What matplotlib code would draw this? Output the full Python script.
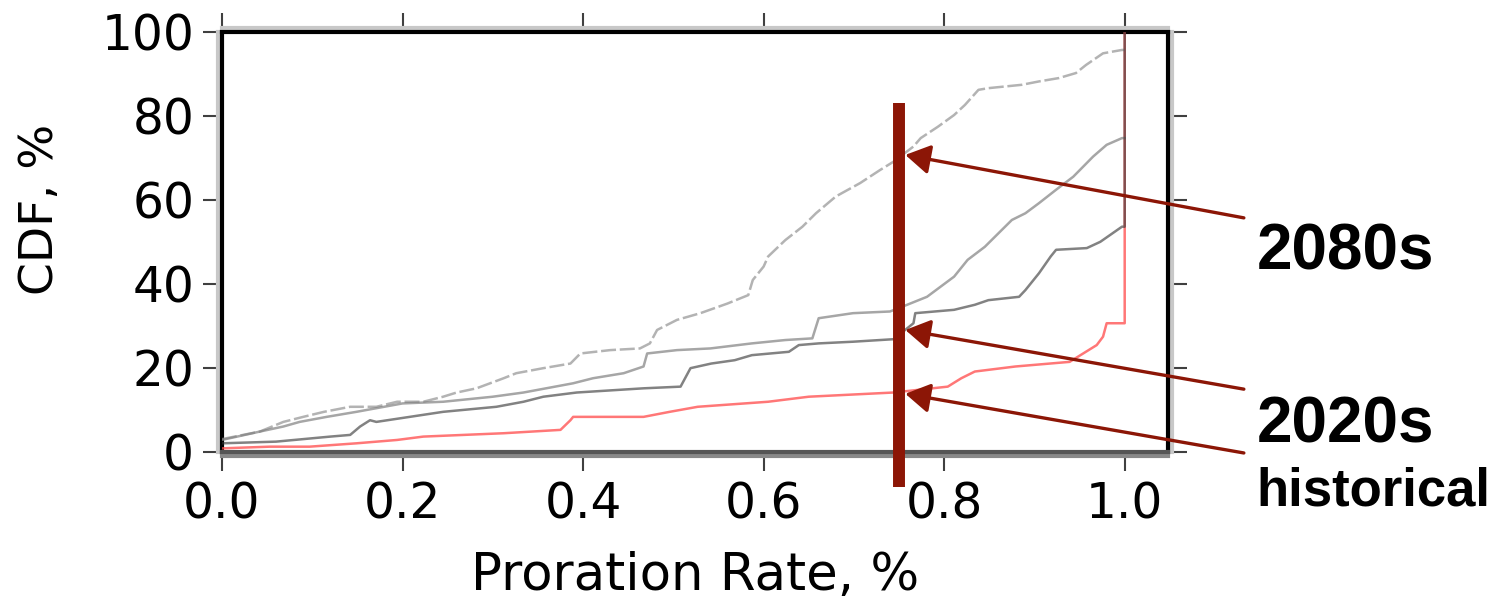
import numpy as np
import matplotlib
matplotlib.use('Agg')
import matplotlib.pyplot as plt
import matplotlib.patheffects as pe

# CDF curves of proration rate
x_2080 = [0.0, 0.042, 0.068, 0.09, 0.113, 0.142, 0.171, 0.194, 0.223, 0.245, 0.26, 0.282,
          0.312, 0.326, 0.356, 0.386, 0.397, 0.43, 0.463, 0.474, 0.482, 0.504, 0.53, 0.56,
          0.583, 0.588, 0.6, 0.605, 0.624, 0.643, 0.658, 0.68, 0.707, 0.729, 0.744, 0.766,
          0.774, 0.793, 0.811, 0.823, 0.838, 0.849, 0.886, 0.905, 0.927, 0.946, 0.957, 0.976,
          0.997, 1.0]
y_2080 = [3.0, 4.8, 7.1, 8.3, 9.5, 10.7, 10.7, 11.9, 11.9, 13.1, 14.1, 15.1,
          17.5, 18.7, 19.9, 21.0, 23.4, 24.2, 24.6, 25.8, 29.0, 31.4, 33.0, 35.3,
          37.3, 40.9, 44.1, 46.5, 50.4, 53.6, 56.8, 60.8, 64.0, 67.1, 69.1, 72.7,
          74.7, 77.4, 80.2, 82.6, 86.2, 86.6, 87.4, 88.2, 89.0, 90.2, 92.1, 94.9,
          95.7, 95.7]

x_2020a = [0.0, 0.042, 0.068, 0.086, 0.116, 0.149, 0.2, 0.245, 0.3, 0.334, 0.389, 0.411,
           0.445, 0.467, 0.471, 0.504, 0.541, 0.587, 0.624, 0.654, 0.661, 0.699, 0.74,
           0.759, 0.781, 0.796, 0.811, 0.826, 0.845, 0.86, 0.875, 0.89, 0.905, 0.924,
           0.943, 0.954, 0.965, 0.98, 0.997, 1.0]
y_2020a = [2.8, 4.8, 6.0, 7.1, 8.3, 9.5, 11.5, 11.9, 13.1, 14.1, 16.3, 17.5,
           18.7, 20.3, 23.4, 24.2, 24.6, 25.8, 26.6, 27.0, 31.8, 33.0, 33.4,
           35.0, 36.9, 39.3, 41.7, 45.7, 48.8, 52.0, 55.2, 56.8, 59.2, 62.4,
           65.5, 67.9, 70.3, 73.1, 74.7, 74.7]

x_2020b = [0.0, 0.06, 0.12, 0.142, 0.153, 0.164, 0.171, 0.208, 0.245, 0.304, 0.334, 0.356,
           0.393, 0.467, 0.508, 0.519, 0.542, 0.568, 0.587, 0.628, 0.639, 0.661, 0.699,
           0.744, 0.766, 0.768, 0.811, 0.834, 0.849, 0.883, 0.89, 0.905, 0.918, 0.924,
           0.958, 0.973, 0.997, 1.0, 1.0]
y_2020b = [2.0, 2.4, 3.6, 4.0, 6.0, 7.5, 7.1, 8.3, 9.5, 10.7, 11.9, 13.1,
           14.1, 15.1, 15.5, 19.9, 21.0, 21.8, 23.0, 23.8, 25.4, 25.8, 26.2,
           26.8, 30.6, 33.0, 33.8, 35.0, 36.1, 36.9, 38.5, 42.5, 46.5, 48.1,
           48.5, 50.0, 53.6, 53.6, 100.0]

x_hist = [0.0, 0.053, 0.097, 0.149, 0.194, 0.223, 0.312, 0.375, 0.386, 0.389, 0.467,
          0.496, 0.527, 0.605, 0.65, 0.744, 0.804, 0.819, 0.834, 0.879, 0.939, 0.954,
          0.969, 0.976, 0.98, 1.0, 1.0]
y_hist = [0.8, 1.2, 1.2, 2.0, 2.8, 3.6, 4.4, 5.2, 7.5, 8.3, 8.3,
          9.5, 10.7, 11.9, 13.1, 14.1, 15.5, 17.5, 19.1, 20.3, 21.4, 23.4,
          25.4, 27.4, 30.6, 30.6, 100.0]

# marker bar and labels
bar_x = 0.75
bar_y = (-8.3, 83.0)
labels = ['2080s', '2020s', 'historical']
label_size = [46, 46, 38]
tip_y = [70.7, 29.0, 13.8]
tail_y = [55.7, 14.9, -0.3]
text_y = [43.3, 2.3, -12.7]

xticks = [0.0, 0.2, 0.4, 0.6, 0.8, 1.0]
yticks = [0, 20, 40, 60, 80, 100]

dark_red = '#8c1606'

fig = plt.figure(figsize=(15.05, 6.03), dpi=100)
ax = fig.add_axes([0.1475, 0.2509, 0.6286, 0.6962])

ax.plot(x_hist, y_hist, color='#ff4a4a', lw=1.8, alpha=0.75, zorder=3)
ax.plot(x_2080, y_2080, color='#8a8a8a', lw=1.8, alpha=0.65, dashes=(6, 1.5), zorder=4)
ax.plot(x_2020a, y_2020a, color='#808080', lw=1.8, alpha=0.7, zorder=4)
ax.plot(x_2020b, y_2020b, color='#353535', lw=1.8, alpha=0.62, zorder=5)

ax.plot([bar_x, bar_x], bar_y, color=dark_red, lw=8.6, solid_capstyle='butt',
        clip_on=False, zorder=6)

for lab, fs, ty, tl, tt in zip(labels, label_size, tip_y, tail_y, text_y):
    ax.annotate('', xy=(0.757, ty), xytext=(1.132, tl), xycoords='data',
                annotation_clip=False,
                arrowprops=dict(arrowstyle='-|>,head_length=0.75,head_width=0.45',
                                mutation_scale=20, color=dark_red, lw=2.4,
                                shrinkA=0, shrinkB=0), zorder=7)
    ax.text(1.146, tt, lab, fontsize=fs, fontweight='bold', family='Liberation Sans',
            ha='left', va='baseline', clip_on=False)

ax.set_xlim(0, 1.048)
ax.set_ylim(0, 100)
ax.set_xticks(xticks)
ax.set_xticklabels(['{:.1f}'.format(v) for v in xticks])
ax.set_yticks(yticks)
ax.tick_params(direction='out', length=14, width=1.5, color='#404040', pad=7,
               labelsize=35, top=True, right=True)
ax.tick_params(axis='y', pad=6)
ax.set_xlabel('Proration Rate, %', fontsize=37, labelpad=16)
ax.set_ylabel('CDF, %', fontsize=34)
ax.yaxis.set_label_coords(-0.168, 0.578)

shift = {'left': (-3, 0), 'right': (3, 0), 'top': (0, 3), 'bottom': (0, -3)}
for side, sp in ax.spines.items():
    sp.set_linewidth(3)
    sp.set_color('black')
    sp.set_path_effects([pe.Stroke(offset=shift[side], linewidth=3, foreground='#c8c8c8'),
                         pe.Normal()])
ax.spines['bottom'].set_color('#555555')
ax.spines['bottom'].set_path_effects([pe.Stroke(offset=(0, -3), linewidth=3, foreground='#888888'),
                                      pe.Normal()])

plt.savefig('out.png', dpi=100)
plt.close()
